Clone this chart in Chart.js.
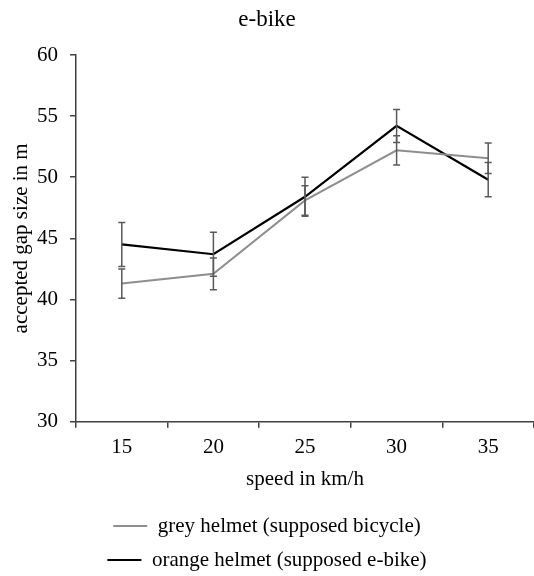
<!DOCTYPE html>
<html>
<head>
<meta charset="utf-8">
<script src="https://cdn.jsdelivr.net/npm/chart.js@4"></script>
<style>
    html, body { margin: 0; padding: 0; background: #fff; }
    #wrap { width: 534px; height: 576px; }
</style>
</head>
<body>
<div id="wrap"><canvas id="myChart"></canvas></div>
<script>
const speeds = ['15', '20', '25', '30', '35'];
const greyGap = [41.3, 42.1, 48.1, 52.2, 51.55];
const greyErr = [1.2, 1.3, 1.2, 1.2, 1.25];
const orangeGap = [44.5, 43.7, 48.4, 54.2, 49.8];
const orangeErr = [1.8, 1.8, 1.6, 1.35, 1.4];
const yTicks = [30, 35, 40, 45, 50, 55, 60];

const serif = 'Liberation Serif';
const axisColor = '#404040';

// error bars drawn over the lines, from the y scale
const errorBars = {
    id: 'errorBars',
    afterDatasetsDraw(chart) {
        const ctx = chart.ctx;
        const yScale = chart.scales.y;
        ctx.save();
        ctx.strokeStyle = '#5a5a5a';
        ctx.lineWidth = 1.5;
        chart.data.datasets.forEach((ds, i) => {
            const meta = chart.getDatasetMeta(i);
            meta.data.forEach((pt, j) => {
                const v = ds.data[j];
                const e = ds.errors[j];
                const top = yScale.getPixelForValue(v + e);
                const bot = yScale.getPixelForValue(v - e);
                ctx.beginPath();
                ctx.moveTo(pt.x, top);
                ctx.lineTo(pt.x, bot);
                ctx.moveTo(pt.x - 3.5, top);
                ctx.lineTo(pt.x + 3.5, top);
                ctx.moveTo(pt.x - 3.5, bot);
                ctx.lineTo(pt.x + 3.5, bot);
                ctx.stroke();
            });
        });
        ctx.restore();
    }
};

new Chart(document.getElementById('myChart'), {
    type: 'line',
    data: {
        labels: speeds,
        datasets: [
            {
                label: 'grey helmet (supposed bicycle)',
                data: greyGap,
                errors: greyErr,
                borderColor: '#8e8e8e',
                backgroundColor: '#8e8e8e',
                borderWidth: 2,
                pointRadius: 0,
                tension: 0
            },
            {
                label: 'orange helmet (supposed e-bike)',
                data: orangeGap,
                errors: orangeErr,
                borderColor: '#000000',
                backgroundColor: '#000000',
                borderWidth: 2.2,
                pointRadius: 0,
                tension: 0
            }
        ]
    },
    options: {
        responsive: true,
        maintainAspectRatio: false,
        animation: false,
        layout: { padding: { top: 0, left: 0, right: 0, bottom: -4.5 } },
        plugins: {
            title: {
                display: true,
                text: 'e-bike',
                color: '#000',
                font: { family: serif, size: 23, weight: 'normal' },
                padding: { top: 5.8, bottom: 21.6 }
            },
            legend: {
                position: 'bottom',
                labels: {
                    color: '#000',
                    font: { family: serif, size: 21 },
                    boxWidth: 34,
                    boxHeight: 2,
                    padding: 13,
                    generateLabels(chart) {
                        const items = Chart.defaults.plugins.legend.labels.generateLabels(chart);
                        items.forEach(it => { it.lineWidth = 0; it.fillStyle = it.strokeStyle; });
                        return items;
                    }
                }
            },
            tooltip: { enabled: false }
        },
        scales: {
            x: {
                offset: true,
                grid: {
                    offset: true,
                    drawOnChartArea: false,
                    drawTicks: true,
                    tickLength: 6,
                    color: axisColor,
                    lineWidth: 1.5
                },
                border: { display: true, color: axisColor, width: 1.5 },
                ticks: {
                    color: '#000',
                    padding: 7,
                    font: { family: serif, size: 21 }
                },
                title: {
                    display: true,
                    text: 'speed in km/h',
                    color: '#000',
                    font: { family: serif, size: 21 },
                    padding: { top: 0, bottom: 10.4 }
                }
            },
            y: {
                min: 30,
                max: 60,
                afterBuildTicks: scale => {
                    scale.ticks = yTicks.map(v => ({ value: v }));
                },
                afterFit: scale => {
                    scale.width = 76;
                },
                grid: {
                    drawOnChartArea: false,
                    drawTicks: true,
                    tickLength: 6,
                    color: axisColor,
                    lineWidth: 1.5
                },
                border: { display: true, color: axisColor, width: 1.5 },
                ticks: {
                    color: '#000',
                    padding: 12,
                    font: { family: serif, size: 21 }
                },
                title: {
                    display: true,
                    text: 'accepted gap size in m',
                    color: '#000',
                    font: { family: serif, size: 21 },
                    padding: { top: 9, bottom: 3 }
                }
            }
        }
    },
    plugins: [errorBars]
});
</script>
</body>
</html>
